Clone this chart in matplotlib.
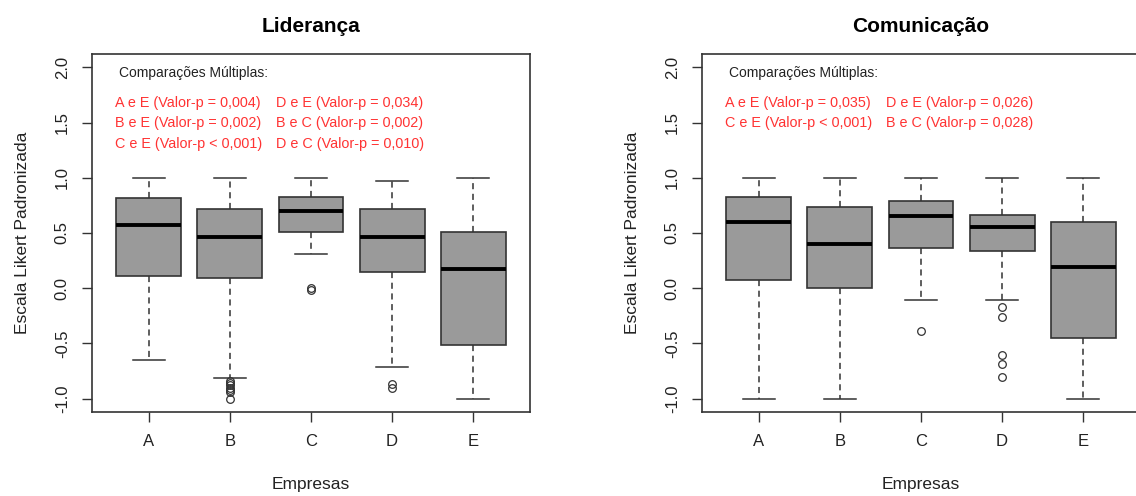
import matplotlib
matplotlib.use("Agg")
import matplotlib.pyplot as plt

plt.rcParams['font.family'] = ['Liberation Sans', 'DejaVu Sans']

empresas = ["A", "B", "C", "D", "E"]

# Lideranca
lid_whishi = [1.0, 1.0, 1.0, 0.967, 1.0]
lid_q3 = [0.815, 0.715, 0.824, 0.715, 0.508]
lid_med = [0.569, 0.466, 0.70, 0.466, 0.174]
lid_q1 = [0.114, 0.093, 0.508, 0.144, -0.514]
lid_whislo = [-0.65, -0.81, 0.314, -0.71, -1.0]
lid_fliers = [[], [-0.84, -0.86, -0.88, -0.90, -0.92, -0.94, -1.0], [0.0, -0.02], [-0.87, -0.90], []]
lid_comp = [["A e E (Valor-p = 0,004)", "D e E (Valor-p = 0,034)"],
            ["B e E (Valor-p = 0,002)", "B e C (Valor-p = 0,002)"],
            ["C e E (Valor-p < 0,001)", "D e C (Valor-p = 0,010)"]]

# Comunicacao
com_whishi = [1.0, 1.0, 1.0, 1.0, 1.0]
com_q3 = [0.824, 0.734, 0.794, 0.664, 0.604]
com_med = [0.598, 0.398, 0.658, 0.558, 0.192]
com_q1 = [0.074, 0.005, 0.365, 0.337, -0.449]
com_whislo = [-1.0, -1.0, -0.107, -0.107, -1.0]
com_fliers = [[], [], [-0.386], [-0.174, -0.259, -0.607, -0.69, -0.805], []]
com_comp = [["A e E (Valor-p = 0,035)", "D e E (Valor-p = 0,026)"],
            ["C e E (Valor-p < 0,001)", "B e C (Valor-p = 0,028)"]]

yticks = [-1.0, -0.5, 0.0, 0.5, 1.0, 1.5, 2.0]

fig = plt.figure(figsize=(11.36, 4.96), dpi=100)
ax1 = fig.add_axes([92 / 1136, 84 / 496, 438 / 1136, 358 / 496])
ax2 = fig.add_axes([702 / 1136, 84 / 496, 438 / 1136, 358 / 496])

line_col = "#333333"


def draw_panel(ax, title, whishi, q3, med, q1, whislo, fliers, comp):
    stats = []
    for i in range(len(empresas)):
        stats.append(dict(med=med[i], q1=q1[i], q3=q3[i], whislo=whislo[i],
                          whishi=whishi[i], fliers=fliers[i], label=empresas[i]))
    ax.bxp(stats, positions=range(1, 6), widths=0.8, patch_artist=True,
           boxprops=dict(facecolor="#9a9a9a", edgecolor=line_col, linewidth=1.2),
           medianprops=dict(color="black", linewidth=2.8),
           whiskerprops=dict(color=line_col, linewidth=1.1, linestyle=(0, (4, 3))),
           capprops=dict(color=line_col, linewidth=1.1),
           capwidths=0.4,
           flierprops=dict(marker="o", markersize=5.5, markerfacecolor="none",
                           markeredgecolor=line_col, markeredgewidth=0.9))
    ax.set_xlim(0.3, 5.7)
    ax.set_ylim(-1.12, 2.12)
    ax.set_yticks(yticks)
    ax.set_yticklabels([f"{v:.1f}" for v in yticks], rotation=90, va="center")
    ax.set_xticks(range(1, 6))
    ax.set_xticklabels(empresas)
    ax.tick_params(axis="both", length=7, width=1.0, color=line_col,
                   labelsize=12, labelcolor="#222222", pad=9)
    for s in ax.spines.values():
        s.set_color(line_col)
        s.set_linewidth(1.2)
    ax.set_xlabel("Empresas", fontsize=12.5, color="#222222", labelpad=20)
    ax.set_ylabel("Escala Likert Padronizada", fontsize=12.5, color="#222222", labelpad=18)
    ax.set_title(title, fontsize=15, fontweight="bold", color="black", pad=16)

    ax.text(0.633, 1.95, "Comparações Múltiplas:", fontsize=10, color="#222222",
            ha="left", va="center")
    rows_y = [1.68, 1.495, 1.305]
    for r, pair in enumerate(comp):
        ax.text(0.58, rows_y[r], pair[0], fontsize=10.4, color="#ff3333", ha="left", va="center")
        ax.text(2.569, rows_y[r], pair[1], fontsize=10.4, color="#ff3333", ha="left", va="center")


draw_panel(ax1, "Liderança", lid_whishi, lid_q3, lid_med, lid_q1, lid_whislo, lid_fliers, lid_comp)
draw_panel(ax2, "Comunicação", com_whishi, com_q3, com_med, com_q1, com_whislo, com_fliers, com_comp)

fig.savefig("out.png", dpi=100)
